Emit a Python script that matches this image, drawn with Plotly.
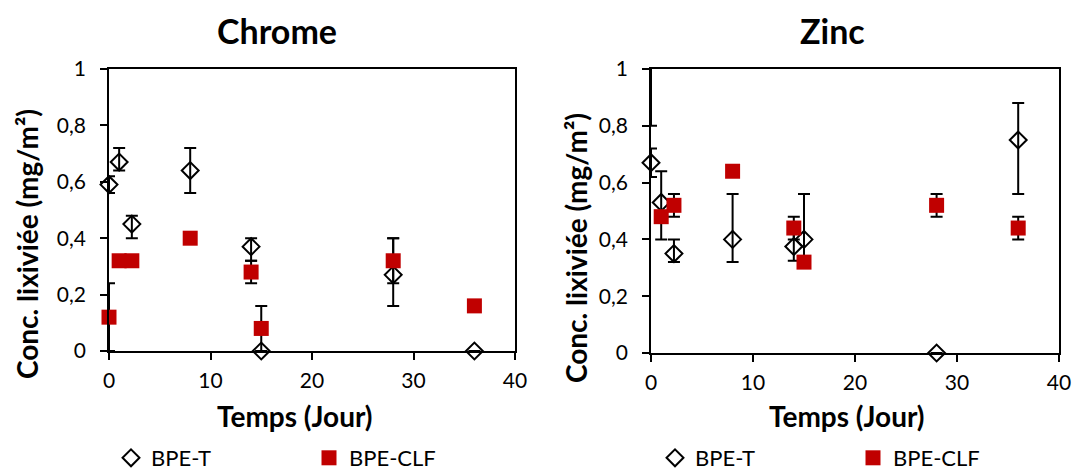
import plotly.graph_objects as go

# ---------------- data ----------------
series_names = ["BPE-T", "BPE-CLF"]
y_tickvals = [0, 0.2, 0.4, 0.6, 0.8, 1]
y_ticktext = ["0", "0,2", "0,4", "0,6", "0,8", "1"]
x_tickvals = [0, 10, 20, 30, 40]

# Chrome
cr_t_x = [0, 1, 2.25, 8, 14, 15, 28, 36]
cr_t_y = [0.59, 0.67, 0.45, 0.64, 0.37, 0.0, 0.27, 0.0]
cr_t_ep = [0.03, 0.05, 0.03, 0.08, 0.03, 0.0, 0.13, 0.0]
cr_t_em = [0.03, 0.03, 0.05, 0.08, 0.05, 0.0, 0.11, 0.0]

cr_c_x = [0, 1, 2.25, 8, 14, 15, 28, 36]
cr_c_y = [0.12, 0.32, 0.32, 0.40, 0.28, 0.08, 0.32, 0.16]
cr_c_ep = [0.12, 0.0, 0.0, 0.0, 0.04, 0.08, 0.08, 0.0]
cr_c_em = [0.12, 0.0, 0.0, 0.0, 0.04, 0.08, 0.08, 0.0]

# Zinc
zn_t_x = [0, 1, 2.25, 8, 14, 15, 28, 36]
zn_t_y = [0.67, 0.53, 0.35, 0.40, 0.375, 0.40, 0.0, 0.75]
zn_t_ep = [0.05, 0.11, 0.05, 0.16, 0.05, 0.16, 0.0, 0.13]
zn_t_em = [0.05, 0.13, 0.03, 0.08, 0.05, 0.08, 0.0, 0.19]

zn_c_x = [1, 2.25, 8, 14, 15, 28, 36]
zn_c_y = [0.48, 0.52, 0.64, 0.44, 0.32, 0.52, 0.44]
zn_c_ep = [0.0, 0.04, 0.0, 0.04, 0.0, 0.04, 0.04]
zn_c_em = [0.0, 0.04, 0.0, 0.04, 0.0, 0.04, 0.04]

# zinc BPE-CLF at day 0 lies above the plotted range (only its lower error cap shows)
zn_c0_x = [0]
zn_c0_y = [1.1]
zn_c0_e = [0.3]

titles = ["Chrome", "Zinc"]
x_title = "Temps (Jour)"
y_title = "Conc. lixiviée (mg/m²)"

# ---------------- style ----------------
FONT = "Lato, 'Open Sans', sans-serif"
RED = "#C00000"
W, H = 1073, 471

def px_x(p):
    return p / W

def px_y(p):
    return 1 - p / H

fig = go.Figure()

def add_pair(tx, ty, tep, tem, cx, cy, cep, cem, xa, ya, legend, showleg):
    fig.add_trace(go.Scatter(
        x=tx, y=ty, mode="markers", name=series_names[0],
        xaxis=xa, yaxis=ya, legend=legend, showlegend=showleg, cliponaxis=False,
        marker=dict(symbol="diamond-open", size=13, color="black", line=dict(width=2, color="black")),
        error_y=dict(type="data", symmetric=False, array=tep, arrayminus=tem,
                     color="black", thickness=2, width=6),
    ))
    fig.add_trace(go.Scatter(
        x=cx, y=cy, mode="markers", name=series_names[1],
        xaxis=xa, yaxis=ya, legend=legend, showlegend=showleg, cliponaxis=False,
        marker=dict(symbol="square", size=15, color=RED, line=dict(width=0)),
        error_y=dict(type="data", symmetric=False, array=cep, arrayminus=cem,
                     color="black", thickness=2, width=6),
    ))

add_pair(cr_t_x, cr_t_y, cr_t_ep, cr_t_em, cr_c_x, cr_c_y, cr_c_ep, cr_c_em, "x", "y", "legend", True)
add_pair(zn_t_x, zn_t_y, zn_t_ep, zn_t_em, zn_c_x, zn_c_y, zn_c_ep, zn_c_em, "x2", "y2", "legend2", True)

fig.add_trace(go.Scatter(
    x=zn_c0_x, y=zn_c0_y, mode="markers", name=series_names[1],
    xaxis="x2", yaxis="y2", showlegend=False, cliponaxis=True,
    marker=dict(symbol="square", size=15, color=RED),
    error_y=dict(type="data", array=zn_c0_e, color="black", thickness=2, width=6),
))

axis_common = dict(
    showgrid=False, zeroline=False, showline=True, linecolor="black", linewidth=1.75,
    mirror=True, ticks="outside", ticklen=7, tickwidth=1.75, tickcolor="black",
    tickfont=dict(family=FONT, size=21, color="black"), automargin=False,
)
xaxis_common = dict(axis_common, range=[0, 40], tickvals=x_tickvals, ticklabelstandoff=3)
yaxis_common = dict(axis_common, range=[0, 1], tickvals=y_tickvals, ticktext=y_ticktext,
                    ticklabelstandoff=10)

legend_common = dict(
    orientation="h", xanchor="left", yanchor="middle",
    font=dict(family=FONT, size=22, color="black"),
    entrywidth=153, entrywidthmode="pixels", bgcolor="rgba(0,0,0,0)",
    itemclick=False, itemdoubleclick=False,
)

fig.update_layout(
    width=W, height=H,
    margin=dict(l=0, r=0, t=0, b=0, autoexpand=False),
    paper_bgcolor="white", plot_bgcolor="white",
    font=dict(family=FONT, color="black"),
    xaxis=dict(xaxis_common, domain=[px_x(109), px_x(515)], anchor="y"),
    yaxis=dict(yaxis_common, domain=[px_y(351), px_y(69)], anchor="x"),
    xaxis2=dict(xaxis_common, domain=[px_x(651), px_x(1059)], anchor="y2"),
    yaxis2=dict(yaxis_common, domain=[px_y(353), px_y(69)], anchor="x2"),
    legend=dict(legend_common, x=px_x(111), y=px_y(458)),
    legend2=dict(legend_common, x=px_x(655), y=px_y(458)),
    showlegend=True,
)

for t, xc in zip(titles, (277, 832)):
    fig.add_annotation(text="<b>%s</b>" % t, x=px_x(xc), y=px_y(31), xref="paper", yref="paper",
                       showarrow=False, xanchor="center", yanchor="middle",
                       font=dict(family=FONT, size=34, color="black"))

for xc in (295, 847):
    fig.add_annotation(text="<b>%s</b>" % x_title, x=px_x(xc), y=px_y(416), xref="paper", yref="paper",
                       showarrow=False, xanchor="center", yanchor="middle",
                       font=dict(family=FONT, size=28, color="black"))
for xc, yc in ((27, 244), (576, 248)):
    fig.add_annotation(text="<b>%s</b>" % y_title, x=px_x(xc), y=px_y(yc), xref="paper", yref="paper",
                       showarrow=False, xanchor="center", yanchor="middle", textangle=-90,
                       font=dict(family=FONT, size=28, color="black"))

# remove the default 8px page margin so the 1073x471 figure fills the window exactly
fig.write_html("out.html", config={"displayModeBar": False},
               post_script="document.body.style.margin='0';document.body.style.overflow='hidden';")
